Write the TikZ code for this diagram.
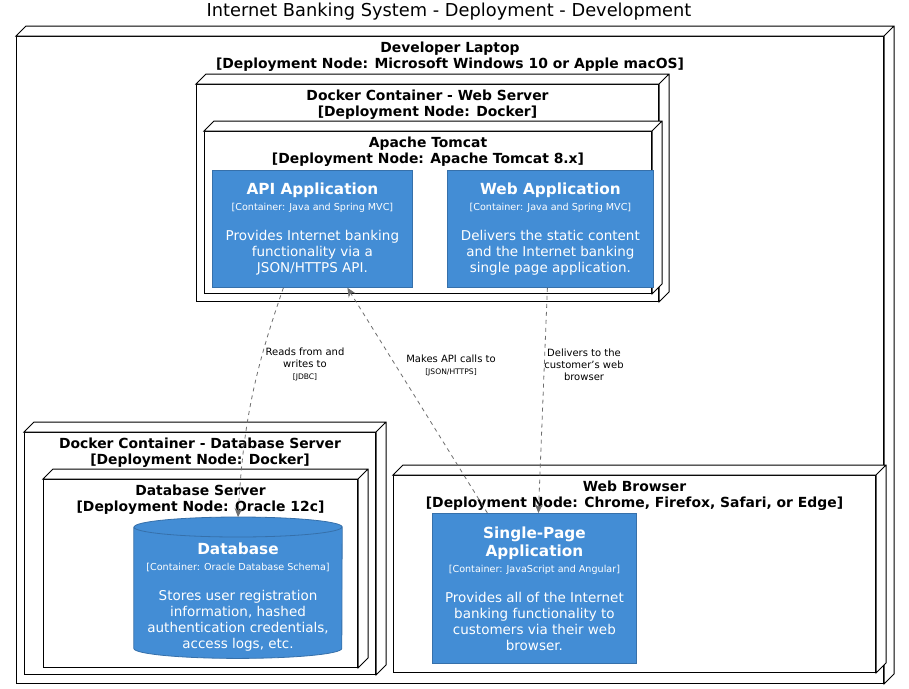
\documentclass[tikz,border=0pt]{standalone}
\usepackage{fontspec}
\setmainfont{DejaVu Sans}
\usepackage{tikz}
\usetikzlibrary{positioning,arrows.meta}
\definecolor{c4blue}{HTML}{438DD5}
\definecolor{c4border}{HTML}{3670AA}
\definecolor{relgray}{HTML}{6E6E6E}
\newcommand\comptitle[1]{{\fontsize{15.3}{18}\selectfont\bfseries #1}}
\newcommand\comptag[1]{{\fontsize{9.6}{11}\selectfont #1}}
\newcommand\reltech[1]{{\fontsize{7.6}{8}\selectfont #1}}

\begin{document}
\begin{tikzpicture}[x=1pt, y=-1pt,
    every node/.style = {align=center, inner sep=0pt},
    depnode/.style = {draw, line width=1pt, fill=white, anchor=north west},
    deptitle/.style = {font=\fontsize{13.9}{15.5}\selectfont\bfseries},
    container/.style = {draw=c4border, fill=c4blue, text=white, anchor=north west,
        line width=0.8pt, font=\fontsize{13.5}{16}\selectfont},
    rel/.style = {relgray, dash pattern=on 4pt off 4pt, line width=0.8pt,
        -{Stealth[length=9pt,width=8pt]}},
    rellabel/.style = {font=\fontsize{10}{12}\selectfont}]
    \path[use as bounding box, fill=white] (0,0) rectangle (909,688);
    \node[font=\fontsize{17.8}{20}\selectfont] (title) at (449,12) {Internet Banking System - Deployment - Development};

    \node[depnode, minimum width=867, minimum height=647] (laptop) at (16,36) {};
    \node[deptitle, below=6pt of laptop.north] (laptopt) {Developer Laptop\\{[Deployment Node: Microsoft Windows 10 or Apple macOS]}};

    \node[depnode, minimum width=462, minimum height=217] (websrv) at (196,84) {};
    \node[deptitle, below=6pt of websrv.north] (websrvt) {Docker Container - Web Server\\{[Deployment Node: Docker]}};
    \node[depnode, minimum width=447, minimum height=162] (tomcat) at (204,131) {};
    \node[deptitle, below=6pt of tomcat.north] (tomcatt) {Apache Tomcat\\{[Deployment Node: Apache Tomcat 8.x]}};

    \node[depnode, minimum width=351, minimum height=242] (dbdock) at (24,432) {};
    \node[deptitle, below=6pt of dbdock.north] (dbdockt) {Docker Container - Database Server\\{[Deployment Node: Docker]}};
    \node[depnode, minimum width=314, minimum height=188] (dbsrv) at (43,479) {};
    \node[deptitle, below=6pt of dbsrv.north] (dbsrvt) {Database Server\\{[Deployment Node: Oracle 12c]}};

    \node[depnode, minimum width=482, minimum height=197] (browser) at (393,475) {};
    \node[deptitle, below=6pt of browser.north] (browsert) {Web Browser\\{[Deployment Node: Chrome, Firefox, Safari, or Edge]}};

    \foreach \n in {laptop, websrv, tomcat, dbdock, dbsrv, browser}
      \draw[line width=1pt, fill=white] (\n.north west) -- ++(10,-10) -| ([shift={(10,-10)}]\n.south east)
        -- (\n.south east) -- (\n.north east) -- cycle (\n.north east) -- ++(10,-10);

    \node[container, minimum width=200, minimum height=117] (api) at (212,170)
      {\comptitle{API Application}\\\comptag{[Container: Java and Spring MVC]}\\[14pt]Provides Internet banking\\functionality via a\\JSON/HTTPS API.};
    \node[container, minimum width=206, minimum height=117] (webapp) at (447,170)
      {\comptitle{Web Application}\\\comptag{[Container: Java and Spring MVC]}\\[14pt]Delivers the static content\\and the Internet banking\\single page application.};

    \node[minimum width=208, minimum height=141, anchor=north] (db) at (238,517) {};
    \draw[c4border, fill=c4blue, line width=0.8pt] ([yshift=-10pt]db.north west) -- ([yshift=10pt]db.south west)
      arc[start angle=180, end angle=360, x radius=104pt, y radius=10pt] -- ([yshift=-10pt]db.north east)
      arc[start angle=0, end angle=180, x radius=104pt, y radius=10pt] -- cycle
      ([yshift=-10pt]db.north west) arc[start angle=180, end angle=360, x radius=104pt, y radius=10pt];
    \node[text=white, font=\fontsize{13.5}{16}\selectfont] (dbtext) at (238,597)
      {\comptitle{Database}\\\comptag{[Container: Oracle Database Schema]}\\[14pt]Stores user registration\\information, hashed\\authentication credentials,\\access logs, etc.};

    \node[container, minimum width=204, minimum height=150] (spa) at (432,513)
      {\comptitle{Single-Page}\\[2pt]\comptitle{Application}\\\comptag{[Container: JavaScript and Angular]}\\[14pt]Provides all of the Internet\\banking functionality to\\customers via their web\\browser.};

    \draw[rel] ([xshift=-29]api.south) to[bend right=8] (db.north);
    \draw[rel] ([xshift=-47]spa.north) -- ([xshift=35]api.south);
    \draw[rel] ([xshift=-3]webapp.south) -- ([xshift=4]spa.north);

    \node[rellabel] (readsl) at (305,364) {Reads from and\\writes to\\\reltech{[JDBC]}};
    \node[rellabel] (callsl) at (451,365) {Makes API calls to\\\reltech{[JSON/HTTPS]}};
    \node[rellabel] (deliversl) at (584,365) {Delivers to the\\customer's web\\browser};
  \end{tikzpicture}
\end{document}
